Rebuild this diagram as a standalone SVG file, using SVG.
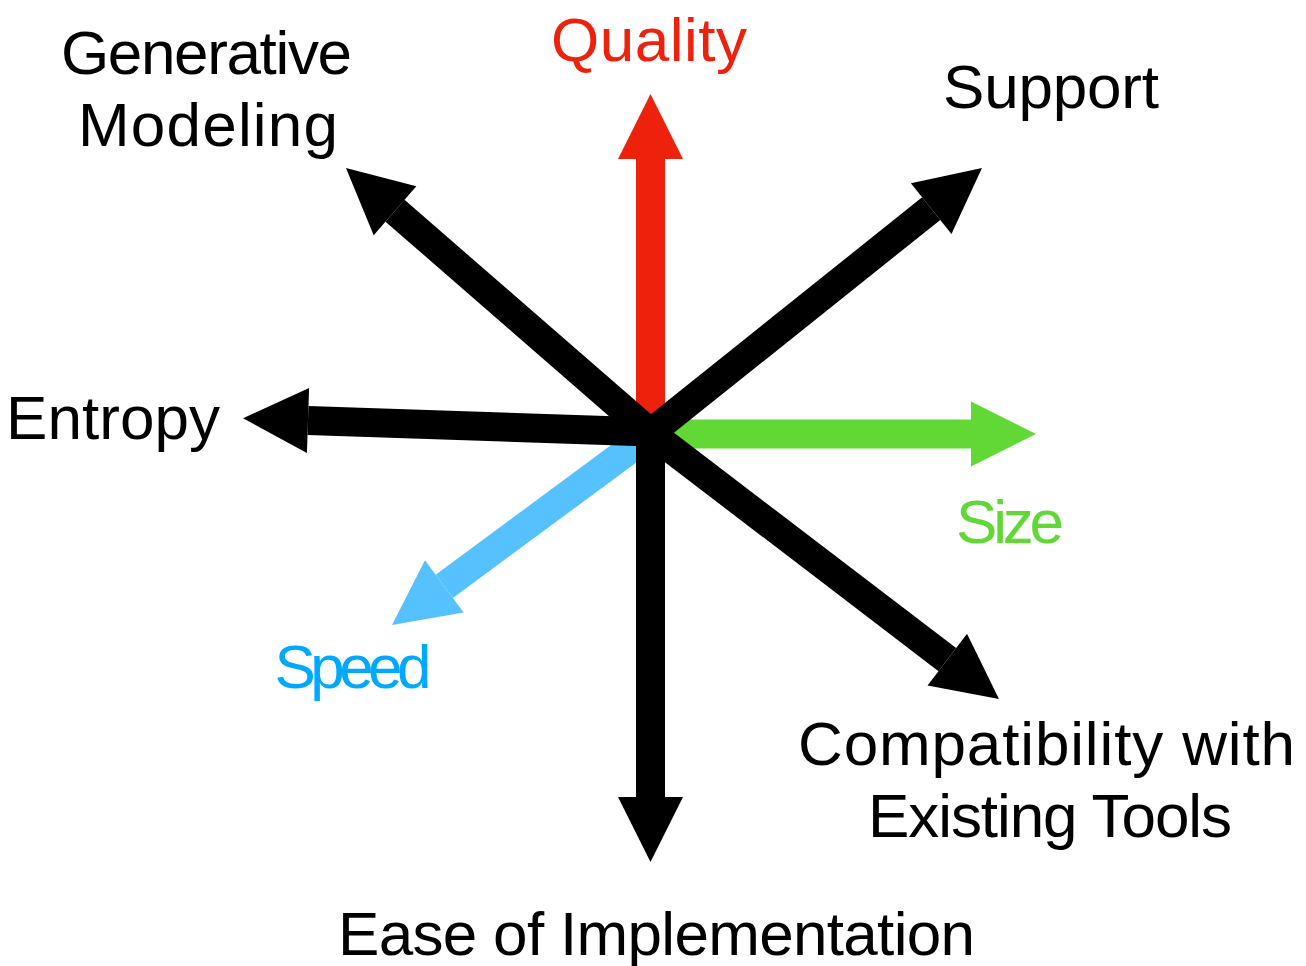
<svg xmlns="http://www.w3.org/2000/svg" width="1306" height="966" viewBox="0 0 1306 966">
<style>
.t{font-family:"Liberation Sans",Arial,Helvetica,sans-serif;font-size:62px;text-anchor:middle}
.k{fill:#000}
.ar{fill:none;stroke-width:29;stroke-linecap:butt}
</style>
<defs>
<marker id="mk" markerUnits="userSpaceOnUse" markerWidth="66" markerHeight="66" refX="0" refY="33" orient="auto" overflow="visible"><path d="M0,0.5 L65,33 L0,65.5 Z" fill="#000"/></marker>
<marker id="mr" markerUnits="userSpaceOnUse" markerWidth="66" markerHeight="66" refX="0" refY="33" orient="auto" overflow="visible"><path d="M0,0.5 L65,33 L0,65.5 Z" fill="#EE220C"/></marker>
<marker id="mg" markerUnits="userSpaceOnUse" markerWidth="66" markerHeight="66" refX="0" refY="33" orient="auto" overflow="visible"><path d="M0,0.5 L65,33 L0,65.5 Z" fill="#61D836"/></marker>
<marker id="mb" markerUnits="userSpaceOnUse" markerWidth="66" markerHeight="66" refX="0" refY="33" orient="auto" overflow="visible"><path d="M0,0.5 L65,33 L0,65.5 Z" fill="#56C1FF"/></marker>
</defs>
<rect width="1306" height="966" fill="#fff"/>
<g id="connectors">
<line id="a-quality" class="ar" x1="650.5" y1="433" x2="650.5" y2="159" stroke="#EE220C" marker-end="url(#mr)"/>
<line id="a-size" class="ar" x1="650.5" y1="434" x2="971" y2="434" stroke="#61D836" marker-end="url(#mg)"/>
<line id="a-speed" class="ar" x1="650.5" y1="434" x2="444.3" y2="586.4" stroke="#56C1FF" marker-end="url(#mb)"/>
<line id="a-entropy" class="ar" x1="650.5" y1="432" x2="308" y2="420.5" stroke="#000" marker-end="url(#mk)"/>
<line id="a-gen" class="ar" x1="650.5" y1="433" x2="395" y2="210.7" stroke="#000" marker-end="url(#mk)"/>
<line id="a-support" class="ar" x1="650.5" y1="433" x2="931.2" y2="208.6" stroke="#000" marker-end="url(#mk)"/>
<line id="a-compat" class="ar" x1="650.5" y1="433" x2="947.3" y2="659.6" stroke="#000" marker-end="url(#mk)"/>
<line id="a-ease" class="ar" x1="650.5" y1="425" x2="650.5" y2="797" stroke="#000" marker-end="url(#mk)"/>
</g>
<g id="quality"><text class="t" x="649" y="61" fill="#EE220C" textLength="196">Quality</text></g>
<g id="generative"><text class="t k" x="206.5" y="74" textLength="291">Generative</text><text class="t k" x="208" y="146" textLength="260">Modeling</text></g>
<g id="support"><text class="t k" x="1051" y="108" textLength="216">Support</text></g>
<g id="entropy"><text class="t k" x="113" y="439" textLength="214">Entropy</text></g>
<g id="size"><text class="t" x="1010" y="543" fill="#61D836" textLength="108">Size</text></g>
<g id="speed"><text class="t" x="353" y="688" fill="#00A9FF" textLength="157">Speed</text></g>
<g id="compat"><text class="t k" x="1046.5" y="765" textLength="497">Compatibility with</text><text class="t k" x="1050" y="837" textLength="364">Existing Tools</text></g>
<g id="ease"><text class="t k" x="656.5" y="955" textLength="637">Ease of Implementation</text></g>
</svg>
